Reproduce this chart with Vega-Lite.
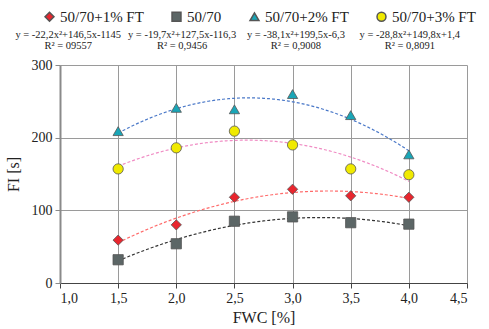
{
  "$schema": "https://vega.github.io/schema/vega-lite/v6.json",
  "background": "white",
  "padding": {"left": 5, "top": 9, "right": 5, "bottom": 5},
  "config": {
    "font": "Liberation Serif",
    "view": {"stroke": null},
    "axis": {"labelFont": "Liberation Serif", "titleFont": "Liberation Serif", "labelColor": "#222", "titleColor": "#222", "titleFontWeight": "normal"}
  },
  "datasets": {
    "points": [
      {"series": "50/70+1% FT", "fwc": 1.5, "fi": 59},
      {"series": "50/70+1% FT", "fwc": 2.0, "fi": 80},
      {"series": "50/70+1% FT", "fwc": 2.5, "fi": 118},
      {"series": "50/70+1% FT", "fwc": 3.0, "fi": 129},
      {"series": "50/70+1% FT", "fwc": 3.5, "fi": 120},
      {"series": "50/70+1% FT", "fwc": 4.0, "fi": 118},
      {"series": "50/70", "fwc": 1.5, "fi": 32},
      {"series": "50/70", "fwc": 2.0, "fi": 54},
      {"series": "50/70", "fwc": 2.5, "fi": 85},
      {"series": "50/70", "fwc": 3.0, "fi": 91},
      {"series": "50/70", "fwc": 3.5, "fi": 83},
      {"series": "50/70", "fwc": 4.0, "fi": 81},
      {"series": "50/70+2% FT", "fwc": 1.5, "fi": 209},
      {"series": "50/70+2% FT", "fwc": 2.0, "fi": 241},
      {"series": "50/70+2% FT", "fwc": 2.5, "fi": 239},
      {"series": "50/70+2% FT", "fwc": 3.0, "fi": 260},
      {"series": "50/70+2% FT", "fwc": 3.5, "fi": 231},
      {"series": "50/70+2% FT", "fwc": 4.0, "fi": 177},
      {"series": "50/70+3% FT", "fwc": 1.5, "fi": 157},
      {"series": "50/70+3% FT", "fwc": 2.0, "fi": 186},
      {"series": "50/70+3% FT", "fwc": 2.5, "fi": 209},
      {"series": "50/70+3% FT", "fwc": 3.0, "fi": 190},
      {"series": "50/70+3% FT", "fwc": 3.5, "fi": 157},
      {"series": "50/70+3% FT", "fwc": 4.0, "fi": 149}
    ],
    "eqs": [
      {"series": "50/70+1% FT", "eq": "y = -22,2x²+146,5x-1145", "r2": "R² = 09557"},
      {"series": "50/70", "eq": "y = -19,7x²+127,5x-116,3", "r2": "R² = 0,9456"},
      {"series": "50/70+2% FT", "eq": "y = -38,1x²+199,5x-6,3", "r2": "R² = 0,9008"},
      {"series": "50/70+3% FT", "eq": "y = -28,8x²+149,8x+1,4", "r2": "R² = 0,8091"}
    ]
  },
  "spacing": 0,
  "resolve": {"scale": {"x": "independent", "y": "independent"}},
  "vconcat": [
    {
      "width": 358,
      "height": 35,
      "data": {"name": "eqs"},
      "transform": [{"fold": ["eq", "r2"], "as": ["line", "label"]}],
      "mark": {"type": "text", "font": "Liberation Serif", "fontSize": 10.5, "baseline": "middle", "align": "center", "color": "#222"},
      "encoding": {
        "x": {"field": "series", "type": "nominal", "sort": ["50/70+1% FT", "50/70", "50/70+2% FT", "50/70+3% FT"], "scale": {"type": "point", "padding": 0.072}, "axis": null},
        "y": {"field": "line", "type": "nominal", "sort": ["eq", "r2"], "scale": {"type": "point", "padding": 1.09}, "axis": null},
        "text": {"field": "label"}
      }
    },
    {
      "width": 407,
      "height": 218,
      "data": {"name": "points"},
      "layer": [
        {
          "transform": [{"filter": {"field": "series", "equal": "50/70+1% FT"}}, {"regression": "fi", "on": "fwc", "method": "poly", "order": 2, "extent": [1.5, 4.0]}],
          "mark": {"type": "line", "strokeDash": [3, 2], "strokeWidth": 1.2, "interpolate": "monotone", "stroke": "#ff6b6b"},
          "encoding": {"x": {"field": "fwc", "type": "quantitative"}, "y": {"field": "fi", "type": "quantitative"}}
        },
        {
          "transform": [{"filter": {"field": "series", "equal": "50/70"}}, {"regression": "fi", "on": "fwc", "method": "poly", "order": 2, "extent": [1.5, 4.0]}],
          "mark": {"type": "line", "strokeDash": [3, 2], "strokeWidth": 1.2, "interpolate": "monotone", "stroke": "#333333"},
          "encoding": {"x": {"field": "fwc", "type": "quantitative"}, "y": {"field": "fi", "type": "quantitative"}}
        },
        {
          "transform": [{"filter": {"field": "series", "equal": "50/70+2% FT"}}, {"regression": "fi", "on": "fwc", "method": "poly", "order": 2, "extent": [1.5, 4.0]}],
          "mark": {"type": "line", "strokeDash": [3, 2], "strokeWidth": 1.2, "interpolate": "monotone", "stroke": "#4a78c8"},
          "encoding": {"x": {"field": "fwc", "type": "quantitative"}, "y": {"field": "fi", "type": "quantitative"}}
        },
        {
          "transform": [{"filter": {"field": "series", "equal": "50/70+3% FT"}}, {"regression": "fi", "on": "fwc", "method": "poly", "order": 2, "extent": [1.5, 4.0]}],
          "mark": {"type": "line", "strokeDash": [3, 2], "strokeWidth": 1.2, "interpolate": "monotone", "stroke": "#f08cc4"},
          "encoding": {"x": {"field": "fwc", "type": "quantitative"}, "y": {"field": "fi", "type": "quantitative"}}
        },
        {
          "mark": {"type": "point", "filled": true, "stroke": "#555555", "strokeWidth": 0.8, "opacity": 1, "size": 105},
          "encoding": {
            "x": {"field": "fwc", "type": "quantitative",
              "scale": {"domain": [1, 4.5], "nice": false, "zero": false},
              "axis": {"values": [1, 1.5, 2, 2.5, 3, 3.5, 4, 4.5], "labelExpr": "replace(format(datum.value, '.1f'), '.', ',')",
                "title": "FWC [%]", "titleFontSize": 16, "labelFontSize": 14, "grid": true, "gridColor": "#9a9a9a", "gridWidth": 1,
                "domainColor": "#444", "domainWidth": 1.2, "tickColor": "#444", "tickSize": 5, "labelPadding": 3, "titlePadding": 4}},
            "y": {"field": "fi", "type": "quantitative",
              "scale": {"domain": [0, 300], "nice": false},
              "axis": {"values": [0, 50, 100, 150, 200, 250, 300], "title": "FI [s]", "titleFontSize": 16, "labelFontSize": 14,
                "grid": true, "gridColor": "#9a9a9a", "gridWidth": 1, "domainColor": "#8a8a8a", "domainWidth": 2,
                "tickColor": "#8a8a8a", "tickSize": 5, "labelPadding": 3, "titlePadding": 10}},
            "fill": {"field": "series", "type": "nominal",
              "scale": {"domain": ["50/70+1% FT", "50/70", "50/70+2% FT", "50/70+3% FT"], "range": ["#e8262e", "#5c6666", "#1aa6b7", "#f0ea00"]},
              "legend": {"orient": "none", "legendX": -18, "legendY": -14, "direction": "horizontal", "title": null,
                "labelFont": "Liberation Serif", "labelFontSize": 15, "labelColor": "#222", "columnPadding": 25, "symbolSize": 80, "labelOffset": 3}},
            "shape": {"field": "series", "type": "nominal",
              "scale": {"domain": ["50/70+1% FT", "50/70", "50/70+2% FT", "50/70+3% FT"], "range": ["diamond", "square", "triangle-up", "circle"]}}
          }
        }
      ]
    }
  ]
}
